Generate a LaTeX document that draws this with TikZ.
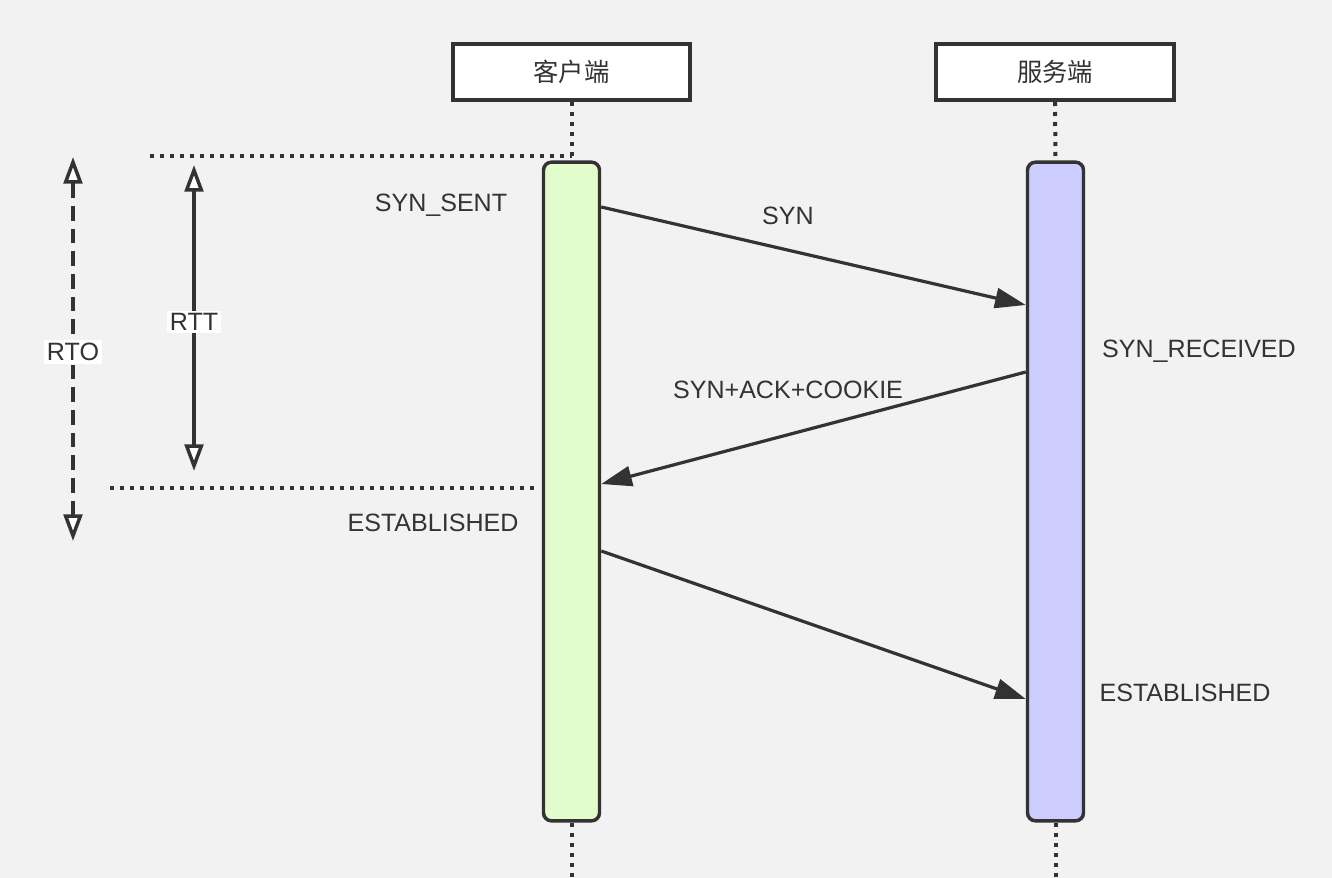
\documentclass[tikz,border=0pt]{standalone}
\usepackage{fontspec}
\setmainfont{Liberation Sans}
\newfontfamily\cjk{Noto Sans CJK SC}
\usetikzlibrary{arrows.meta}
\definecolor{bg}{HTML}{F2F2F2}
\definecolor{ink}{HTML}{333333}
\definecolor{cgreen}{HTML}{E2FCCC}
\definecolor{sblue}{HTML}{CCCCFF}
\begin{document}
\begin{tikzpicture}[x=0.75pt,y=-0.75pt,
  hdr/.style={draw=ink,line width=3pt,fill=white,minimum width=178pt,minimum height=42pt,inner sep=0pt,font=\cjk\fontsize{19}{23}\selectfont,text=ink},
  bar/.style={draw=ink,line width=2.6pt,rounded corners=6pt,minimum width=42pt,minimum height=494pt,inner sep=0pt},
  lbl/.style={font=\fontsize{18.8}{22}\selectfont,text=ink,inner sep=1pt},
  dots/.style={draw=ink,line width=3pt,dash pattern=on 3pt off 4.5pt},
  msg/.style={draw=ink,line width=2.4pt,-{Triangle[length=23pt,width=15pt]}},
  meas/.style={draw=ink,line width=2.6pt,{Triangle[open,fill=white,length=20pt,width=14pt,line width=2.6pt]}-{Triangle[open,fill=white,length=20pt,width=14pt,line width=2.6pt]}},
  tag/.style={lbl,fill=white,inner sep=2pt}]
\fill[bg] (0,0) rectangle (1332,878);
\useasboundingbox (0,0) rectangle (1332,878);

\node[hdr] (client) at (571.5,72) {客户端};
\node[hdr] (server) at (1055,72) {服务端};
\node[bar,fill=cgreen] (cbar) at (571.5,491.5) {};
\node[bar,fill=sblue] (sbar) at (1055.5,491.5) {};

\coordinate (cend) at (571.5,878);
\coordinate (send) at (1055.5,878);
\draw[dots] (client.south) -- (cbar.north);
\draw[dots] (server.south) -- (sbar.north);
\draw[dots] (cbar.south) -- (cend);
\draw[dots] (sbar.south) -- (send);

\coordinate (topL) at (150,156);
\coordinate (botL) at (110,488);
\coordinate (botR) at (535,488);
\draw[dots] (topL) -- (571.5,156);
\draw[dots] (botL) -- (botR);

\coordinate (rttT) at (194,165);
\coordinate (rttB) at (194,471);
\draw[meas] (rttB) -- (rttT);
\node[tag] (rtt) at (194,322) {RTT};
\coordinate (rtoT) at (73,157);
\coordinate (rtoB) at (73,541);
\draw[meas,dash pattern=on 11pt off 6pt] (rtoB) -- (rtoT);
\node[tag] (rto) at (73,352) {RTO};

\draw[msg] (cbar.east |- 0,207) -- (sbar.west |- 0,305);
\draw[msg] (sbar.west |- 0,372) -- (cbar.east |- 0,484);
\draw[msg] (cbar.east |- 0,551) -- (sbar.west |- 0,699);

\node[lbl] (syn) at (788,216) {SYN};
\node[lbl] (sack) at (788,390) {SYN+ACK+COOKIE};
\node[lbl] (ssent) at (441,205) {SYN\_SENT};
\node[lbl] (srecv) at (1199,351) {SYN\_RECEIVED};
\node[lbl] (cest) at (433,523) {ESTABLISHED};
\node[lbl] (sest) at (1185,693) {ESTABLISHED};
\end{tikzpicture}
\end{document}
